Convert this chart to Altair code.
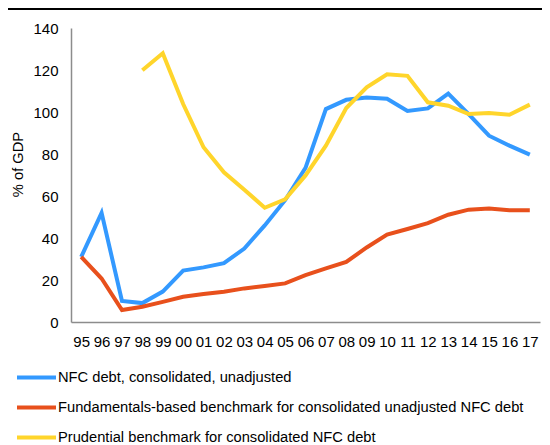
import altair as alt
import pandas as pd

years = ["95", "96", "97", "98", "99", "00", "01", "02", "03", "04", "05", "06",
         "07", "08", "09", "10", "11", "12", "13", "14", "15", "16", "17"]

series_names = [
    "NFC debt, consolidated, unadjusted",
    "Fundamentals-based benchmark for consolidated unadjusted NFC debt",
    "Prudential benchmark for consolidated NFC debt",
]
series_colors = ["#3399FF", "#E8501C", "#FFD52B"]

nfc_debt = [31, 52, 10, 9, 14.5, 24.5, 26, 28, 35, 46, 58, 73.4,
            101.4, 105.8, 106.9, 106.3, 100.5, 101.7, 108.8, 99, 88.7, 84, 79.7]
fundamentals = [31, 20.7, 5.7, 7.3, 9.6, 12, 13.3, 14.4, 16, 17.1, 18.4, 22.3,
                25.5, 28.6, 35.5, 41.6, 44.3, 47.1, 51.1, 53.5, 54, 53.2, 53.2]
prudential = [None, None, None, 119.9, 128, 103.8, 83.2, 71.3, 63, 54.4, 58.4, 69.8,
              84, 101.9, 111.7, 118, 117.2, 104.6, 103, 99, 99.5, 98.7, 103.5]

rows = []
for name, vals in zip(series_names, [nfc_debt, fundamentals, prudential]):
    for i, (y, v) in enumerate(zip(years, vals)):
        if v is not None:
            rows.append({"year": y, "value": v, "series": name, "order": i})
df = pd.DataFrame(rows)

FONT = "Liberation Sans"

lines = alt.Chart(df).mark_line(strokeWidth=4).encode(
    x=alt.X("year:O", sort=years,
            scale=alt.Scale(type="point", padding=0.5),
            axis=alt.Axis(title=None, labelAngle=0, ticks=False, domainColor="#8c8c8c",
                          domainWidth=1.5, labelFontSize=15, labelColor="#000000",
                          labelPadding=12, labelFont=FONT)),
    y=alt.Y("value:Q", scale=alt.Scale(domain=[0, 140]),
            axis=alt.Axis(title="% of GDP", values=[0, 20, 40, 60, 80, 100, 120, 140],
                          grid=False, ticks=False, domainColor="#8c8c8c", domainWidth=1.5,
                          labelFontSize=15, labelColor="#000000", labelPadding=13,
                          labelFont=FONT, titleFont=FONT, titleFontSize=14.7,
                          titleFontWeight="normal", titleColor="#000000",
                          titleX=-53, titleY=136, titleAlign="center",
                          titleBaseline="middle", titleAngle=270)),
    color=alt.Color("series:N", sort=series_names,
                    scale=alt.Scale(domain=series_names, range=series_colors),
                    legend=alt.Legend(title=None, orient="none", legendX=-56, legendY=328,
                                      direction="vertical", symbolType="stroke",
                                      symbolSize=1521, symbolStrokeWidth=4,
                                      labelFontSize=14.7, labelFont=FONT,
                                      labelColor="#000000", labelOffset=0,
                                      labelLimit=600, rowPadding=-10)),
    detail="series:N",
    order="order:Q",
)

border = alt.Chart(df).mark_rule(color="#000000", strokeWidth=1.5).encode(
    x=alt.value(-63), x2=alt.value(479), y=alt.value(-19)
)

chart = alt.layer(border, lines).properties(
    width=469, height=294,
    autosize=alt.AutoSizeParams(type="none"),
    padding={"left": 63, "top": 20, "right": 2, "bottom": 123},
).configure_view(stroke=None)

chart.save("out.html", embed_options={"renderer": "svg", "actions": False})
